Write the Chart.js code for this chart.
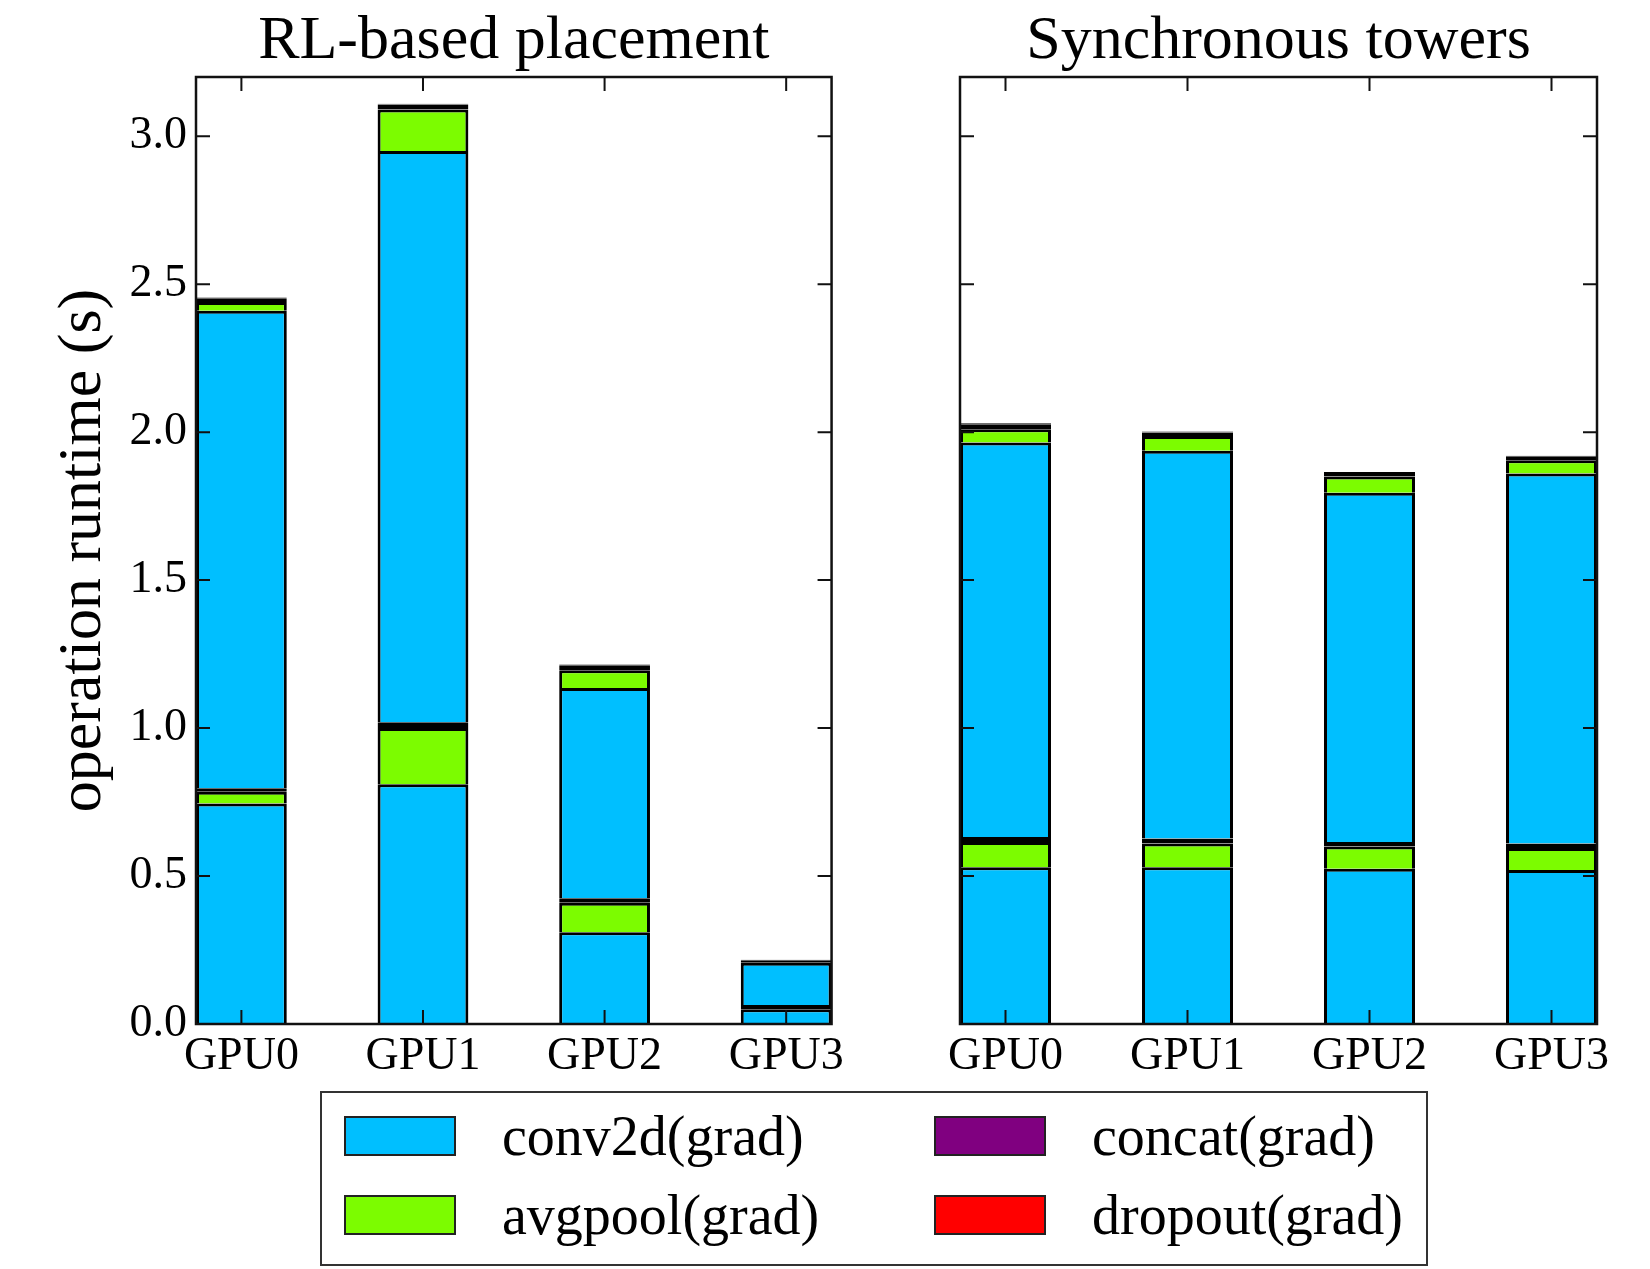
<!DOCTYPE html>
<html>
<head>
<meta charset="utf-8">
<script src="https://cdn.jsdelivr.net/npm/chart.js@4.4.1/dist/chart.umd.min.js"></script>
<style>
  body { margin: 0; background: #fff; width: 1650px; height: 1269px; position: relative; overflow: hidden; }
  .pane { position: absolute; top: 0; }
  #legend { position: absolute; left: 320px; top: 1091px; width: 1104px; height: 171px; border: 2px solid #333; box-sizing: content-box; }
  .item { position: absolute; display: flex; align-items: center; height: 44px; font-family: 'Liberation Serif', serif; font-size: 56px; line-height: 1; color: #000; }
  .sw { width: 108px; height: 36px; border: 2px solid #222; margin-right: 46px; }
</style>
</head>
<body>
<div class="pane" style="left:0px"><canvas id="rl" width="850" height="1094"></canvas></div>
<div class="pane" style="left:850px"><canvas id="sync" width="800" height="1094"></canvas></div>
<div id="legend"></div>
<script>
const gpus = ['GPU0', 'GPU1', 'GPU2', 'GPU3'];
const yTicks = [0, 0.5, 1.0, 1.5, 2.0, 2.5, 3.0];

// RL-based placement, segments from bottom to top
const rlConvLow    = [0.745, 0.81, 0.31, 0.05];
const rlAvgLow     = [0.04, 0.19, 0.10, 0.0];
const rlConcatLow  = [0.012, 0.02, 0.015, 0.014];
const rlConvHigh   = [1.613, 1.93, 0.71, 0.143];
const rlAvgHigh    = [0.03, 0.14, 0.06, 0.0];
const rlConcatHigh = [0.012, 0.017, 0.017, 0.008];
const rlDropout    = [0.003, 0.003, 0.003, 0.002];

// Synchronous towers
const syConvLow    = [0.53, 0.53, 0.525, 0.52];
const syAvgLow     = [0.085, 0.08, 0.075, 0.075];
const syConcatLow  = [0.017, 0.017, 0.015, 0.015];
const syConvHigh   = [1.333, 1.31, 1.18, 1.25];
const syAvgHigh    = [0.045, 0.05, 0.055, 0.045];
const syConcatHigh = [0.017, 0.012, 0.012, 0.012];
const syDropout    = [0.003, 0.003, 0.003, 0.003];

const legendNames  = ['conv2d(grad)', 'concat(grad)', 'avgpool(grad)', 'dropout(grad)'];
const legendColors = ['#00BFFF', '#800080', '#7CFC00', '#FF0000'];
const C = { conv: '#00BFFF', avg: '#7CFC00', concat: '#800080', drop: '#FF0000' };

const serif = 'Liberation Serif';

function pts(arr) { return arr.map((v, i) => ({ x: i, y: v })); }
function ds(label, arr, color, thin) {
  // thin slices get edges on every side so they read as the dark bands of the original
  return { label, data: pts(arr), backgroundColor: color, borderColor: '#000', borderWidth: 3, borderSkipped: thin ? false : 'start' };
}

const frameTicks = {
  id: 'frameTicks',
  afterDatasetsDraw(chart) {
    const { ctx, chartArea: a, scales: { x, y } } = chart;
    ctx.save();
    ctx.strokeStyle = '#111';
    ctx.lineWidth = 2;
    ctx.beginPath();
    yTicks.forEach(v => {
      const p = y.getPixelForValue(v);
      ctx.moveTo(a.left, p); ctx.lineTo(a.left + 14, p);
      ctx.moveTo(a.right, p); ctx.lineTo(a.right - 14, p);
    });
    gpus.forEach((g, i) => {
      const p = x.getPixelForValue(i);
      ctx.moveTo(p, a.bottom); ctx.lineTo(p, a.bottom - 14);
      ctx.moveTo(p, a.top); ctx.lineTo(p, a.top + 14);
    });
    ctx.stroke();
    ctx.lineWidth = 2.5;
    ctx.strokeRect(a.left, a.top, a.right - a.left, a.bottom - a.top);
    ctx.restore();
  }
};

function makeChart(id, title, sets, showY, yWidth, padRight) {
  return new Chart(document.getElementById(id), {
    type: 'bar',
    data: { datasets: sets },
    plugins: [frameTicks],
    options: {
      responsive: false,
      animation: false,
      devicePixelRatio: 1,
      layout: { padding: { left: 0, right: padRight, top: 0, bottom: 0 } },
      datasets: { bar: { categoryPercentage: 1, barPercentage: 0.5 } },
      plugins: {
        legend: { display: false },
        tooltip: { enabled: false },
        title: {
          display: true, text: title, fullSize: false, color: '#000',
          font: { family: serif, size: 62, weight: 'normal', lineHeight: 1 },
          padding: { top: 11, bottom: 4 }
        }
      },
      scales: {
        x: {
          type: 'linear', stacked: true, min: -0.25, max: 3.25, offset: false,
          afterBuildTicks: s => { s.ticks = gpus.map((g, i) => ({ value: i })); },
          afterFit: s => { s.height = 70; },
          grid: { display: false, drawTicks: false, offset: false },
          border: { display: false },
          ticks: { callback: v => gpus[v], color: '#000', padding: 5, font: { family: serif, size: 46 }, maxRotation: 0 }
        },
        y: {
          stacked: true, min: 0, max: 3.2,
          afterBuildTicks: s => { s.ticks = yTicks.map(v => ({ value: v })); },
          afterFit: s => { s.width = yWidth; },
          grid: { display: false, drawTicks: false },
          border: { display: false },
          ticks: { display: showY, callback: v => v.toFixed(1), color: '#000', padding: 9, font: { family: serif, size: 46 } },
          title: {
            display: showY, text: 'operation runtime (s)', color: '#000',
            font: { family: serif, size: 62, lineHeight: 1.2 },
            padding: { top: 47, bottom: 0 }
          }
        }
      }
    }
  });
}

makeChart('rl', 'RL-based placement', [
  ds('conv2d(grad)', rlConvLow, C.conv),
  ds('avgpool(grad)', rlAvgLow, C.avg),
  ds('concat(grad)', rlConcatLow, C.concat, true),
  ds('conv2d(grad)', rlConvHigh, C.conv),
  ds('avgpool(grad)', rlAvgHigh, C.avg),
  ds('concat(grad)', rlConcatHigh, C.concat, true),
  ds('dropout(grad)', rlDropout, C.drop, true)
], true, 196, 15);

makeChart('sync', 'Synchronous towers', [
  ds('conv2d(grad)', syConvLow, C.conv),
  ds('avgpool(grad)', syAvgLow, C.avg),
  ds('concat(grad)', syConcatLow, C.concat, true),
  ds('conv2d(grad)', syConvHigh, C.conv),
  ds('avgpool(grad)', syAvgHigh, C.avg),
  ds('concat(grad)', syConcatHigh, C.concat, true),
  ds('dropout(grad)', syDropout, C.drop, true)
], false, 110, 53);

// legend, two columns of two rows
const legend = document.getElementById('legend');
const colX = [22, 612];
const rowY = [21, 100];
legendNames.forEach((name, i) => {
  const el = document.createElement('div');
  el.className = 'item';
  el.style.left = colX[i % 2] + 'px';
  el.style.top = rowY[Math.floor(i / 2)] + 'px';
  el.innerHTML = '<div class="sw" style="background:' + legendColors[i] + '"></div><span>' + name + '</span>';
  legend.appendChild(el);
});
</script>
</body>
</html>
